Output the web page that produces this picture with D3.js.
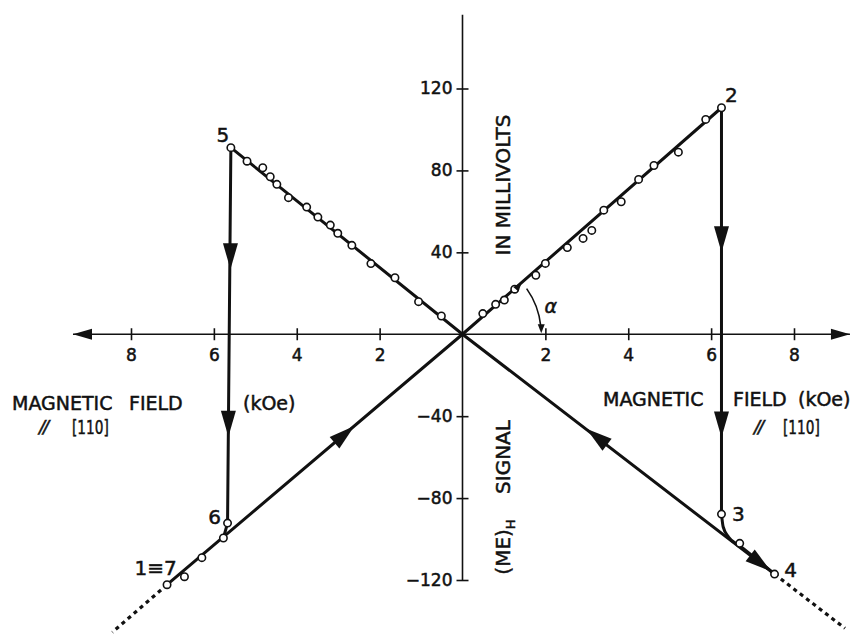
<!DOCTYPE html>
<html>
<head>
<meta charset="utf-8">
<script src="https://cdn.jsdelivr.net/npm/d3@7"></script>
<style>
  body { margin: 0; background: #fff; }
  text { font-family: "DejaVu Sans", sans-serif; fill: #111; stroke: #111; stroke-width: 0.5px; }
</style>
</head>
<body>
<div id="canvas"></div>
<script>
// tick values
const xTicks = [-8, -6, -4, -2, 2, 4, 6, 8];
const yTicks = [-120, -80, -40, 40, 80, 120];
const xAxisExtent = [-9.4, 9.35];
const yAxisExtent = [-120, 156];

// measured points (field in kOe, signal in mV)
const risingPts = [
  [-7.13, -122.3], [-6.71, -118.4], [-6.29, -109.1], [-5.77, -99.5],
  [0.49, 10.1], [0.80, 14.6], [1.01, 16.7], [1.26, 22.0], [1.77, 28.8],
  [2.00, 34.6], [2.53, 42.3], [2.91, 46.8], [3.12, 50.7], [3.41, 60.6],
  [3.83, 64.7], [4.25, 75.6], [4.62, 82.4], [5.21, 88.9], [5.87, 104.9],
  [6.25, 110.6]
];
const fallingPts = [
  [-5.59, 91.1], [-5.20, 84.5], [-4.82, 81.3], [-4.64, 76.9], [-4.48, 73.2],
  [-4.20, 66.7], [-3.76, 62.1], [-3.49, 57.2], [-3.19, 53.3], [-3.01, 49.3],
  [-2.67, 43.4], [-2.21, 34.5], [-1.63, 27.6], [-1.06, 15.9], [-0.51, 8.9],
  [6.69, -102.1], [7.53, -117.1]
];
const jumpPts = [[6.25, -87.8], [-5.67, -92.2]];

// cycle 1 -> 2 -> 3 -> 4 -> 5 -> 6 -> 7
const path12 = [[-7.13, -122.3], [0, 0], [6.25, 110.6]];
const path23 = [[6.25, 110.6], [6.25, -87.8]];
const path34 = [[6.25, -87.8], [6.29, -94], [6.42, -99], [6.69, -103.3], [7.53, -117.1]];
const path45 = [[7.53, -117.1], [0, 0], [-5.59, 91.1]];
const path56 = [[-5.59, 91.1], [-5.67, -92.2], [-5.77, -99.5]];
const extLeft = [[-7.13, -122.3], [-8.45, -145.5]];
const extRight = [[7.53, -117.1], [9.23, -143.6]];

// arrow tips and direction of travel (data units)
const arrowTips = [[-5.6, 31.7], [-5.65, -50], [6.25, 40], [6.25, -50.4], [-2.61, -44.8], [2.99, -46.2], [7.44, -115.7]];
const arrowDirs = [[0, -1], [0, -1], [0, -1], [0, -1], [1, 17.15], [-1, 15.5], [1, -15.5]];

// numbered states of the cycle
const stateNames = ['1≡7', '2', '3', '4', '5', '6'];
const stateVals = [[-7.13, -122.3], [6.25, 110.6], [6.25, -87.8], [7.53, -117.1], [-5.59, 91.1], [-5.67, -92.2]];

const width = 854;
const height = 635;

const svg = d3.select('#canvas')
  .append('svg')
  .attr('width', width)
  .attr('height', height);

const x = d3.scaleLinear().domain([-8, 8]).range([131, 794]);
const y = d3.scaleLinear().domain([-120, 120]).range([580, 88.5]);
const kx = x(1) - x(0);
const ky = y(0) - y(1);

const line = d3.line().x(d => x(d[0])).y(d => y(d[1]));

// draws a filled arrow head with its tip at (tx,ty) pointing along angle a
function arrowHead(tx, ty, a, len, half) {
  const bx = tx - len * Math.cos(a), by = ty - len * Math.sin(a);
  const nx = -Math.sin(a) * half, ny = Math.cos(a) * half;
  svg.append('path')
    .attr('d', `M${tx},${ty}L${bx + nx},${by + ny}L${bx - nx},${by - ny}Z`)
    .attr('fill', '#111');
}

// axes lines with arrow ends
svg.append('line')
  .attr('x1', x(xAxisExtent[0])).attr('x2', x(xAxisExtent[1]))
  .attr('y1', y(0)).attr('y2', y(0))
  .attr('stroke', '#111').attr('stroke-width', 1.6);
arrowHead(x(xAxisExtent[0]), y(0), Math.PI, 19, 5.5);
arrowHead(x(xAxisExtent[1]), y(0), 0, 19, 5.5);

svg.append('line')
  .attr('x1', x(0)).attr('x2', x(0))
  .attr('y1', y(yAxisExtent[1])).attr('y2', y(yAxisExtent[0]))
  .attr('stroke', '#111').attr('stroke-width', 1.6);

// ticks crossing the axes
const xAxis = svg.append('g')
  .attr('transform', `translate(0,${y(0) - 6})`)
  .call(d3.axisBottom(x).tickValues(xTicks).tickSize(12).tickPadding(9)
    .tickFormat(d => Math.abs(d)));
xAxis.select('.domain').remove();

const yAxis = svg.append('g')
  .attr('transform', `translate(${x(0) + 6},0)`)
  .call(d3.axisLeft(y).tickValues(yTicks).tickSize(12).tickPadding(4)
    .tickFormat(d => d < 0 ? '\u2212' + (-d) : d));
yAxis.select('.domain').remove();

svg.selectAll('.tick line').attr('stroke', '#111').attr('stroke-width', 1.6);
svg.selectAll('.tick text')
  .attr('font-family', '"DejaVu Sans", sans-serif')
  .attr('font-size', 17)
  .attr('fill', '#111');

// dotted extensions
[extLeft, extRight].forEach(p => {
  svg.append('path')
    .attr('d', line(p))
    .attr('fill', 'none')
    .attr('stroke', '#111')
    .attr('stroke-width', 3.2)
    .attr('stroke-dasharray', '4,4');
});

// the cycle
[path12, path23, path45, path56].forEach(p => {
  svg.append('path')
    .attr('d', line(p))
    .attr('fill', 'none')
    .attr('stroke', '#111')
    .attr('stroke-width', 3);
});
svg.append('path')
  .attr('d', line.curve(d3.curveMonotoneX)(path34))
  .attr('fill', 'none')
  .attr('stroke', '#111')
  .attr('stroke-width', 3);
line.curve(d3.curveLinear);

arrowTips.forEach((t, i) => {
  const dir = arrowDirs[i];
  const a = Math.atan2(-dir[1] * ky, dir[0] * kx);
  arrowHead(x(t[0]), y(t[1]), a, 26, 7.5);
});

// open circles
svg.selectAll('circle')
  .data(risingPts.concat(fallingPts, jumpPts))
  .enter()
  .append('circle')
  .attr('cx', d => x(d[0]))
  .attr('cy', d => y(d[1]))
  .attr('r', 3.7)
  .attr('fill', '#fff')
  .attr('stroke', '#111')
  .attr('stroke-width', 1.6);

// angle alpha between the rising line and the field axis
const theta = Math.atan2(path12[2][1] * ky, path12[2][0] * kx);
const r = x(1.9) - x(0);
const cx = x(0), cy = y(0);
const arcPath = d3.path();
arcPath.arc(cx, cy, r, -theta + 0.1, -0.1, false);
svg.append('path')
  .attr('d', arcPath.toString())
  .attr('fill', 'none')
  .attr('stroke', '#111')
  .attr('stroke-width', 1.6);
arrowHead(cx + r, cy - 1, Math.PI / 2, 9, 3.5);
arrowHead(cx + r * Math.cos(theta), cy - r * Math.sin(theta), Math.PI + theta - Math.PI / 2 + Math.PI, 9, 3.5);
svg.append('text')
  .attr('x', cx + (r + 14) * Math.cos(theta * 0.43))
  .attr('y', cy - (r + 14) * Math.sin(theta * 0.43))
  .attr('text-anchor', 'middle')
  .attr('dominant-baseline', 'central')
  .attr('font-size', 19)
  .attr('font-style', 'italic')
  .text('α');

// state labels
const labelOffsets = [[-11.5, -17], [10, -13], [17, 0], [16, -4.5], [-8, -13], [-13, -6]];
stateNames.forEach((n, i) => {
  svg.append('text')
    .attr('x', x(stateVals[i][0]) + labelOffsets[i][0])
    .attr('y', y(stateVals[i][1]) + labelOffsets[i][1])
    .attr('text-anchor', 'middle')
    .attr('dominant-baseline', 'central')
    .attr('font-size', 20)
    .text(n);
});

// axis titles
function label(tx, ty, s, size) {
  return svg.append('text')
    .attr('x', tx)
    .attr('y', ty)
    .attr('font-size', size || 19)
    .text(s);
}
// narrowed text, the lettering of [110] is condensed
function narrow(tx, ty, s, sx) {
  return svg.append('text')
    .attr('transform', `translate(${tx},${ty}) scale(${sx},1)`)
    .attr('font-size', 19)
    .text(s);
}
label(12, 410, 'MAGNETIC');
label(129, 410, 'FIELD');
label(243, 410, '(kOe)');
label(39, 433, '//', 18).attr('font-style', 'italic').attr('letter-spacing', -2);
narrow(72, 434, '[110]', 0.72);

label(603, 406, 'MAGNETIC');
label(733, 406, 'FIELD');
label(798, 406, '(kOe)');
label(754, 433, '//', 18).attr('font-style', 'italic').attr('letter-spacing', -2);
narrow(783, 434, '[110]', 0.72);

function vlabel(tx, ty, s) {
  return svg.append('text')
    .attr('transform', `translate(${tx},${ty}) rotate(-90)`)
    .attr('text-anchor', 'middle')
    .attr('font-size', 20)
    .text(s);
}
vlabel(510, 185, 'IN MILLIVOLTS');
vlabel(510, 457, 'SIGNAL');
const me = vlabel(510, 547, '(ME)');
me.append('tspan').attr('dy', 5).attr('font-size', 13).text('H');
</script>
</body>
</html>
